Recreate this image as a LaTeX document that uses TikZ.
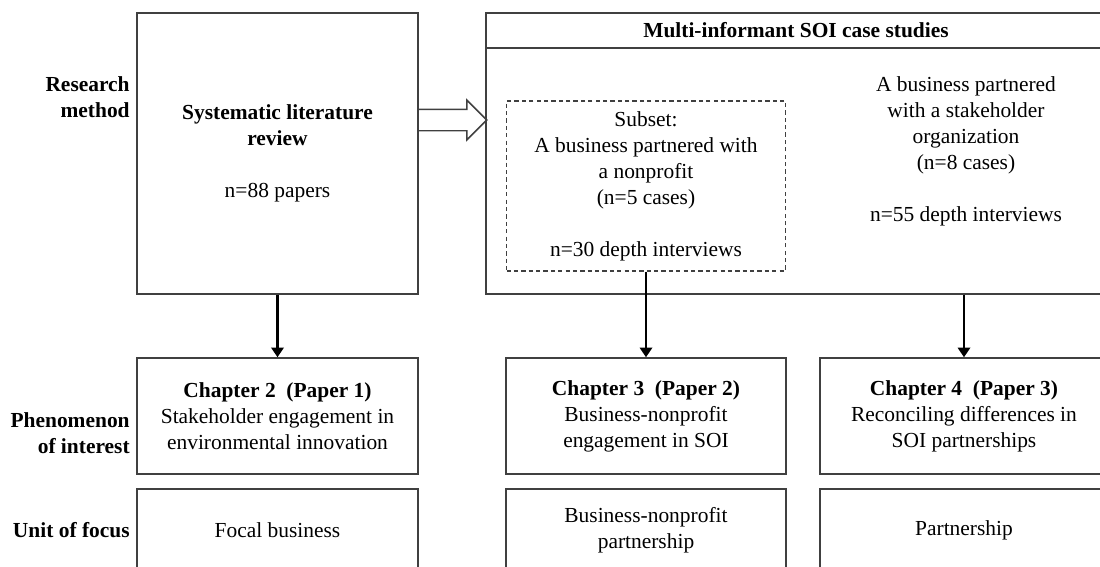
\documentclass[tikz,border=0pt]{standalone}
\usepackage{fontspec}
\setmainfont{Liberation Serif}
\usetikzlibrary{arrows.meta, shapes.arrows}

\begin{document}
\begin{tikzpicture}[x=0.02cm, y=-0.02cm,
  font=\fontsize{12.2}{14.8}\selectfont,
  box/.style={draw=black!75, line width=0.85pt, align=center, inner sep=0pt},
  subsetbox/.style={box, dash pattern=on 2.4pt off 1.8pt},
  rowlabel/.style={anchor=east, align=right, inner sep=0pt, font=\fontsize{12.2}{14.8}\selectfont\bfseries},
  flow/.style={line width=1.7pt, -{Triangle[width=7pt, length=5.5pt]}},
  widearrow/.style={single arrow, draw=black!75, line width=0.85pt, inner xsep=0pt, inner ysep=0.2cm,
    minimum height=1.38cm, minimum width=0.76cm, single arrow head extend=0.18cm}]
  \useasboundingbox (0,0) rectangle (1100,566);
  \clip (0,0) rectangle (1100,566);

  % row labels
  \node[rowlabel] (method) at (130,97) {Research\\method};
  \node[rowlabel] (phenom) at (130,433) {Phenomenon\\of interest};
  \node[rowlabel] (focus) at (130,530) {Unit of focus};

  % research methods
  \node[box, minimum width=5.62cm, minimum height=5.62cm] (slr) at (277.5,153.5)
    {\textbf{Systematic literature}\\\textbf{review}\\[14.8pt]n=88 papers};
  \node[box, minimum width=12.4cm, minimum height=0.7cm, font=\fontsize{12.2}{14.8}\selectfont\bfseries] (casehead) at (796,30.5)
    {Multi-informant SOI case studies};
  \node[box, minimum width=12.4cm, minimum height=4.92cm] (cases) at (796,171) {};
  \node[subsetbox, minimum width=5.58cm, minimum height=3.4cm] (subset) at (646,186)
    {Subset:\\A business partnered with\\a nonprofit\\(n=5 cases)\\[14.8pt]n=30 depth interviews};
  \node[align=center] (stake) at (966,151)
    {A business partnered\\with a stakeholder\\organization\\(n=8 cases)\\[14.8pt]n=55 depth interviews};
  \node[widearrow, anchor=tail] (handoff) at (417,120) {};

  % chapters
  \node[box, minimum width=5.62cm, minimum height=2.32cm] (ch2) at (277.5,416)
    {\textbf{Chapter 2\enspace(Paper 1)}\\Stakeholder engagement in\\environmental innovation};
  \node[box, minimum width=5.6cm, minimum height=2.32cm] (ch3) at (646,416)
    {\textbf{Chapter 3\enspace(Paper 2)}\\Business-nonprofit\\engagement in SOI};
  \node[box, minimum width=5.76cm, minimum height=2.32cm] (ch4) at (964,416)
    {\textbf{Chapter 4\enspace(Paper 3)}\\Reconciling differences in\\SOI partnerships};

  % units of focus
  \node[box, minimum width=5.62cm, minimum height=1.66cm] (unit2) at (277.5,530.5) {Focal business};
  \node[box, minimum width=5.6cm, minimum height=1.66cm] (unit3) at (646,530.5) {Business-nonprofit\\partnership};
  \node[box, minimum width=5.76cm, minimum height=1.66cm] (unit4) at (964,530.5) {Partnership};

  \draw[flow] (slr) -- (ch2);
  \draw[flow] (subset) -- (ch3);
  \draw[flow] (cases.south -| ch4.north) -- (ch4.north);
\end{tikzpicture}
\end{document}
